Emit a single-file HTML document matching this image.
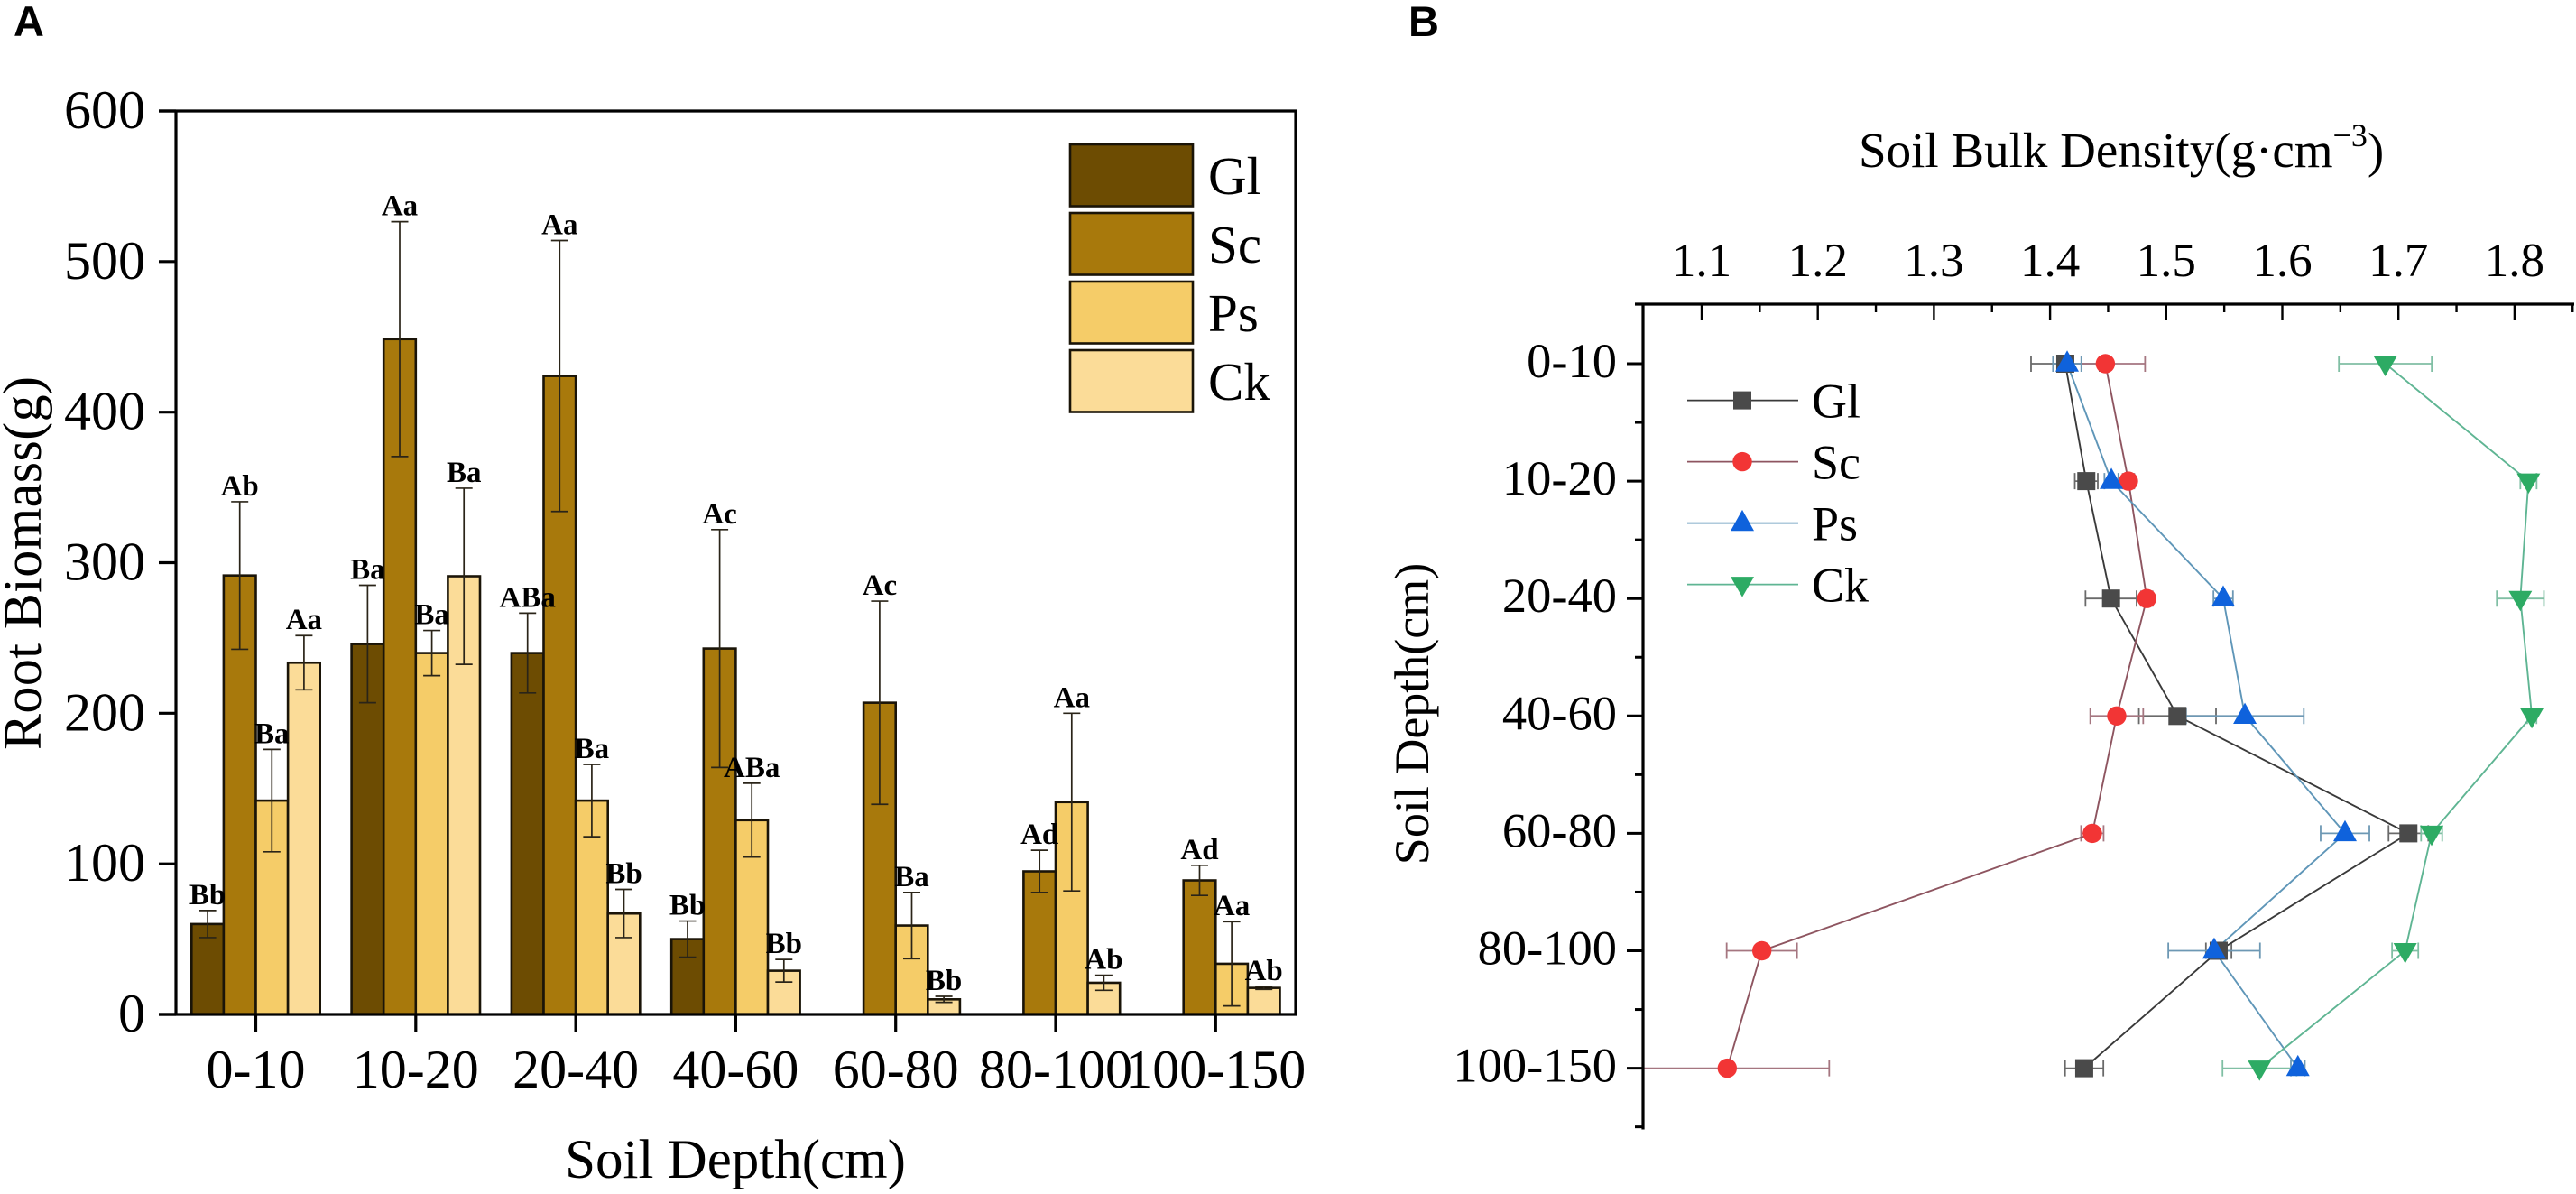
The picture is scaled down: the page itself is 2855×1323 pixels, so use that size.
<!DOCTYPE html>
<html lang="en">
<head>
<meta charset="utf-8">
<title>Root Biomass and Soil Bulk Density by Soil Depth</title>
<style>
html,body{margin:0;padding:0;background:#fff;}
svg{display:block;}
text{font-family:"Liberation Serif",serif;fill:#000;}
.panel{font-family:"Liberation Sans",sans-serif;font-weight:bold;font-size:47px;}
</style>
</head>
<body>
<svg id="figure" xmlns="http://www.w3.org/2000/svg" width="2855" height="1323" viewBox="0 0 2855 1323">
  <rect x="0" y="0" width="2855" height="1323" fill="#ffffff"/>
  <text class="panel" style="font-family:'Liberation Sans',sans-serif" x="15" y="40">A</text>
  <text class="panel" style="font-family:'Liberation Sans',sans-serif" x="1561" y="40">B</text>

  <g id="chart-a"></g>
  <text font-size="60" text-anchor="middle" textLength="414" transform="translate(45 624) rotate(-90)">Root Biomass(g)</text>
  <text font-size="61" text-anchor="middle" x="815" y="1305">Soil Depth(cm)</text>

  <g id="chart-b"></g>
  <text font-size="55" x="2060" y="185">Soil Bulk Density(g·cm<tspan font-size="36" dy="-23">−3</tspan><tspan dy="23">)</tspan></text>
  <text font-size="54" text-anchor="middle" transform="translate(1583 791) rotate(-90)">Soil Depth(cm)</text>
</svg>

<script>
/* ---------- Panel A data ---------- */
const categories = ['0-10', '10-20', '20-40', '40-60', '60-80', '80-100', '100-150'];
const biomassTicks = [0, 100, 200, 300, 400, 500, 600];
const biomassSeriesNames = ['Gl', 'Sc', 'Ps', 'Ck'];

const biomassGl = [60, 246, 240, 50, null, null, null];
const biomassSc = [291.5, 448.5, 424, 243, 207, 95, 89];
const biomassPs = [142, 240, 142, 129, 59, 141, 33.6];
const biomassCk = [233.6, 291, 67, 29, 10, 21, 17.6];

const biomassErrGl = [9, 39, 26.5, 12, null, null, null];
const biomassErrSc = [49, 78, 90, 79, 67.5, 14, 10];
const biomassErrPs = [34, 15, 24, 24.5, 22, 59, 28];
const biomassErrCk = [18, 58.5, 16, 7.5, 2, 5, 1];

const lettersGl = ['Bb', 'Ba', 'ABa', 'Bb', '', '', ''];
const lettersSc = ['Ab', 'Aa', 'Aa', 'Ac', 'Ac', 'Ad', 'Ad'];
const lettersPs = ['Ba', 'Ba', 'Ba', 'ABa', 'Ba', 'Aa', 'Aa'];
const lettersCk = ['Aa', 'Ba', 'Bb', 'Bb', 'Bb', 'Ab', 'Ab'];

/* ---------- Panel B data ---------- */
const depthLabels = ['0-10', '10-20', '20-40', '40-60', '60-80', '80-100', '100-150'];
const densityTicks = [1.1, 1.2, 1.3, 1.4, 1.5, 1.6, 1.7, 1.8];
const densitySeriesNames = ['Gl', 'Sc', 'Ps', 'Ck'];

const densityGl = [1.4131, 1.4312, 1.4525, 1.5097, 1.7086, 1.5452, 1.4294];
const densitySc = [1.4476, 1.4675, 1.4833, 1.4574, 1.4364, 1.1518, 1.122];
const densityPs = [1.4147, 1.4528, 1.5491, 1.5678, 1.654, 1.5413, 1.6134];
const densityCk = [1.6887, 1.812, 1.805, 1.8149, 1.7286, 1.7058, 1.5804];

const densityErrGl = [0.0295, 0.0099, 0.022, 0.0332, 0.0171, 0.011, 0.0165];
const densityErrSc = [0.0342, 0.005, 0.005, 0.0228, 0.0097, 0.0303, 0.0878];
const densityErrPs = [0.0122, 0.006, 0.0084, 0.0507, 0.021, 0.0395, 0.006];
const densityErrCk = [0.04, 0.007, 0.0203, 0.004, 0.0091, 0.0113, 0.0319];

/* ---------- helpers ---------- */
const NS = 'http://www.w3.org/2000/svg';
function make(parent, tag, props, content) {
  const node = document.createElementNS(NS, tag);
  for (const key in props) node.setAttribute(key, props[key]);
  if (content !== undefined) node.textContent = content;
  parent.appendChild(node);
  return node;
}

/* ---------- Panel A ---------- */
const chartA = document.getElementById('chart-a');
const AX = { left: 195, right: 1436, top: 123, bottom: 1124 };
function yA(v) { return AX.bottom - (v / 600) * (AX.bottom - AX.top); }
function xA(i) { return 283.5 + 177.3 * i; }
const barWidth = 35.6;
const barFills = ['#6d4c02', '#a8790c', '#f5cc68', '#fbdc98'];
const biomassValues = [biomassGl, biomassSc, biomassPs, biomassCk];
const biomassErrors = [biomassErrGl, biomassErrSc, biomassErrPs, biomassErrCk];
const biomassLetters = [lettersGl, lettersSc, lettersPs, lettersCk];

biomassValues.forEach(function (series, s) {
  series.forEach(function (v, i) {
    if (v === null) return;
    const left = xA(i) + (s - 2) * barWidth;
    const bar = make(chartA, 'rect', { x: left, y: yA(v), width: barWidth, height: yA(0) - yA(v), fill: barFills[s], stroke: '#1a1408', 'stroke-width': 2.6 });
    
    
  });
});

biomassValues.forEach(function (series, s) {
  series.forEach(function (v, i) {
    if (v === null) return;
    const e = biomassErrors[s][i];
    const cx = xA(i) + (s - 1.5) * barWidth;
    const d = 'M' + cx + ' ' + yA(v + e) + 'V' + yA(v - e) +
      'M' + (cx - 9.5) + ' ' + yA(v + e) + 'h19' +
      'M' + (cx - 9.5) + ' ' + yA(v - e) + 'h19';
    const err = make(chartA, 'path', { d: d, fill: 'none', stroke: '#2a2418', 'stroke-width': 1.7 });
    
    
    const label = make(chartA, 'text', { x: cx, y: yA(v + e) - 7, 'font-size': 33, 'font-weight': 'bold', 'text-anchor': 'middle' }, biomassLetters[s][i]);
    
    
  });
});

const frameA = make(chartA, 'path', { d: 'M' + AX.left + ' ' + AX.bottom + 'V' + AX.top + 'M176 ' + AX.top + 'H' + AX.right + 'V' + AX.bottom + 'H176', fill: 'none', stroke: '#000', 'stroke-width': 3.2 });



biomassTicks.forEach(function (t) {
  const tick = make(chartA, 'line', { x1: 176, x2: AX.left, y1: yA(t), y2: yA(t), stroke: '#000', 'stroke-width': 3.2 });
  
  
  const label = make(chartA, 'text', { x: 161, y: yA(t) + 19, 'font-size': 60, 'text-anchor': 'end' }, String(t));
  
  
});

categories.forEach(function (c, i) {
  const tick = make(chartA, 'line', { x1: xA(i), x2: xA(i), y1: AX.bottom, y2: 1143, stroke: '#000', 'stroke-width': 3.2 });
  
  
  const label = make(chartA, 'text', { x: xA(i), y: 1205, 'font-size': 60, 'text-anchor': 'middle' }, c);
  
  
});

biomassSeriesNames.forEach(function (n, s) {
  const top = 160 + s * 76;
  const swatch = make(chartA, 'rect', { x: 1186, y: top, width: 136, height: 68.5, fill: barFills[s], stroke: '#1a1408', 'stroke-width': 2.6 });
  
  
  const label = make(chartA, 'text', { x: 1339, y: top + 55, 'font-size': 59 }, n);
  
  
});

/* ---------- Panel B ---------- */
const chartB = document.getElementById('chart-b');
const BX = { left: 1821, right: 2853, top: 337, bottom: 1250 };
function xB(v) { return 1886 + (v - 1.1) * 1287; }
function yB(i) { return 403 + 130.1 * i; }
const markerFill = ['#4a4a4a', '#f23535', '#0f62dc', '#2dab64'];
const lineStroke = ['#3a3a3a', '#8e5560', '#5f96b8', '#5fb593'];
const errStroke = ['#6a6a6a', '#a57680', '#6d98b4', '#80bfa4'];
const densityValues = [densityGl, densitySc, densityPs, densityCk];
const densityErrors = [densityErrGl, densityErrSc, densityErrPs, densityErrCk];

function markerShape(parent, s, cx, cy) {
  if (s === 0) return make(parent, 'rect', { x: cx - 10, y: cy - 10, width: 20, height: 20, fill: markerFill[s] });
  if (s === 1) return make(parent, 'circle', { cx: cx, cy: cy, r: 10.7, fill: markerFill[s] });
  if (s === 2) return make(parent, 'polygon', { points: (cx - 13) + ',' + (cy + 8.7) + ' ' + (cx + 13) + ',' + (cy + 8.7) + ' ' + cx + ',' + (cy - 14.7), fill: markerFill[s] });
  return make(parent, 'polygon', { points: (cx - 13) + ',' + (cy - 8.5) + ' ' + (cx + 13) + ',' + (cy - 8.5) + ' ' + cx + ',' + (cy + 14), fill: markerFill[s] });
}

densityValues.forEach(function (series, s) {
  const name = densitySeriesNames[s].toLowerCase();
  series.forEach(function (v, i) {
    const hi = xB(v + densityErrors[s][i]);
    const rawLo = xB(v - densityErrors[s][i]);
    const lo = Math.max(BX.left, rawLo);
    const y = yB(i);
    let d = 'M' + lo + ' ' + y + 'H' + hi + 'M' + hi + ' ' + (y - 9) + 'v18';
    if (rawLo >= BX.left) d += 'M' + lo + ' ' + (y - 9) + 'v18';
    const err = make(chartB, 'path', { d: d, fill: 'none', stroke: errStroke[s], 'stroke-width': 1.8 });
    
    
  });
});

densityValues.forEach(function (series, s) {
  const name = densitySeriesNames[s].toLowerCase();
  const pts = series.map(function (v, i) { return xB(v) + ',' + yB(i); }).join(' ');
  const line = make(chartB, 'polyline', { points: pts, fill: 'none', stroke: lineStroke[s], 'stroke-width': 1.9 });
  
  
});

densityValues.forEach(function (series, s) {
  const name = densitySeriesNames[s].toLowerCase();
  series.forEach(function (v, i) {
    const m = markerShape(chartB, s, xB(v), yB(i));
    
    
  });
});

const axisBTop = make(chartB, 'line', { x1: 1812, x2: BX.right, y1: BX.top, y2: BX.top, stroke: '#000', 'stroke-width': 3.2 });


const axisBLeft = make(chartB, 'line', { x1: BX.left, x2: BX.left, y1: BX.top, y2: BX.bottom + 1.5, stroke: '#000', 'stroke-width': 3.2 });



densityTicks.forEach(function (t) {
  const tick = make(chartB, 'line', { x1: xB(t), x2: xB(t), y1: BX.top, y2: BX.top + 18, stroke: '#000', 'stroke-width': 2.4 });
  
  
  const minor = make(chartB, 'line', { x1: xB(t + 0.05), x2: xB(t + 0.05), y1: BX.top, y2: BX.top + 9, stroke: '#000', 'stroke-width': 2.4 });
  
  
  const label = make(chartB, 'text', { x: xB(t), y: 306, 'font-size': 53, 'text-anchor': 'middle' }, t.toFixed(1));
  
  
});

depthLabels.forEach(function (c, i) {
  const tick = make(chartB, 'line', { x1: 1803, x2: BX.left, y1: yB(i), y2: yB(i), stroke: '#000', 'stroke-width': 3 });
  
  
  const minor = make(chartB, 'line', { x1: 1812, x2: BX.left, y1: yB(i + 0.5), y2: yB(i + 0.5), stroke: '#000', 'stroke-width': 3 });
  
  
  const label = make(chartB, 'text', { x: 1792, y: yB(i) + 15, 'font-size': 54.5, 'text-anchor': 'end' }, c);
  
  
});

densitySeriesNames.forEach(function (n, s) {
  const y = 443.6 + s * 68;
  const line = make(chartB, 'line', { x1: 1870, x2: 1993, y1: y, y2: y, stroke: lineStroke[s], 'stroke-width': 1.8 });
  
  
  const m = markerShape(chartB, s, 1931, y);
  
  
  const label = make(chartB, 'text', { x: 2008, y: y + 19, 'font-size': 54 }, n);
  
  
});
</script>
</body>
</html>
